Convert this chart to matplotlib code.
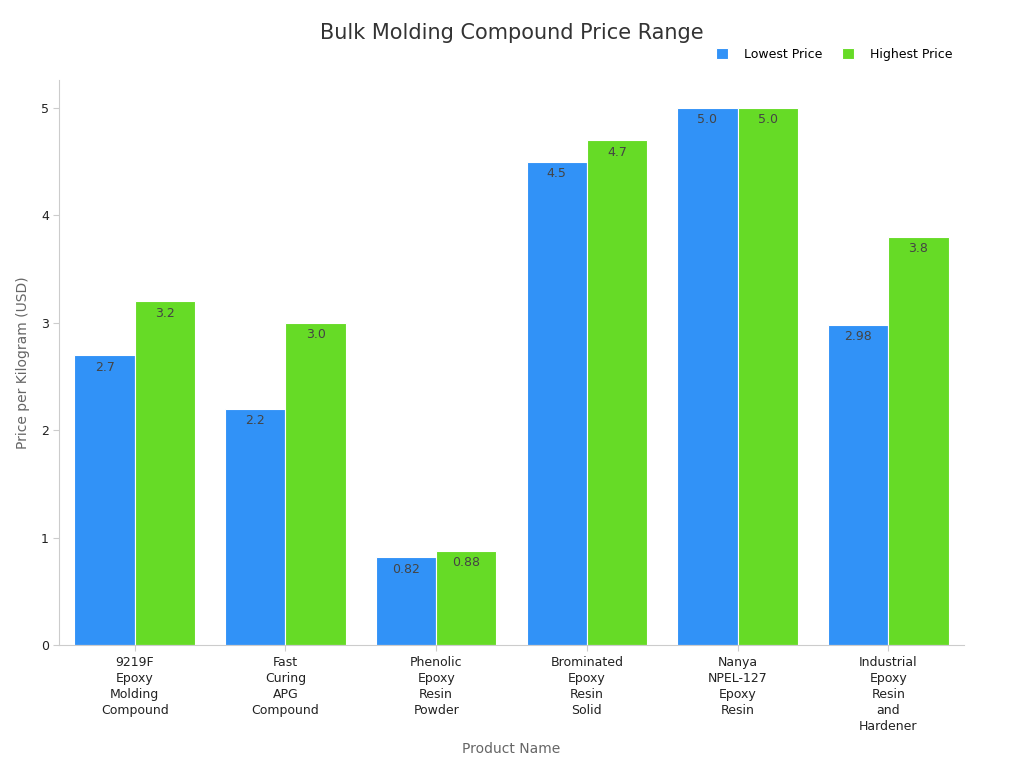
import numpy as np
import matplotlib.pyplot as plt

plt.rcParams['font.family'] = ['DejaVu Sans']

products = ["9219F\nEpoxy\nMolding\nCompound", "Fast\nCuring\nAPG\nCompound",
            "Phenolic\nEpoxy\nResin\nPowder", "Brominated\nEpoxy\nResin\nSolid",
            "Nanya\nNPEL-127\nEpoxy\nResin", "Industrial\nEpoxy\nResin\nand\nHardener"]
lowest = [2.7, 2.2, 0.82, 4.5, 5.0, 2.98]
highest = [3.2, 3.0, 0.88, 4.7, 5.0, 3.8]
low_labels = ["2.7", "2.2", "0.82", "4.5", "5.0", "2.98"]
high_labels = ["3.2", "3.0", "0.88", "4.7", "5.0", "3.8"]

blue = "#3192f7"
green = "#66db26"

fig = plt.figure(figsize=(10.24, 7.68), dpi=100)
ax = fig.add_axes([0.058, 0.16, 0.883, 0.736])

x = np.arange(len(products))
w = 0.4
b1 = ax.bar(x - w/2, lowest, w, color=blue, edgecolor="white", linewidth=0.8, label="Lowest Price")
b2 = ax.bar(x + w/2, highest, w, color=green, edgecolor="white", linewidth=0.8, label="Highest Price")

for bars, labs in ((b1, low_labels), (b2, high_labels)):
    for r, t in zip(bars, labs):
        ax.annotate(t, (r.get_x() + r.get_width()/2, r.get_height()), xytext=(0, -4),
                    textcoords="offset points", ha="center", va="top", fontsize=9, color="#444444")

ax.set_xlim(-0.5, 5.5)
ax.set_ylim(0, 5.26)
ax.set_xticks(x)
ax.set_xticklabels(products, fontsize=9, color="#222222", linespacing=1.3)
ax.set_yticks([0, 1, 2, 3, 4, 5])
ax.tick_params(axis="y", labelsize=9, colors="#222222", length=4, color="#cccccc")
ax.tick_params(axis="x", length=4, color="#cccccc")
for s in ("top", "right"):
    ax.spines[s].set_visible(False)
for s in ("left", "bottom"):
    ax.spines[s].set_color("#cccccc")

ax.set_xlabel("Product Name", fontsize=10, color="#666666", labelpad=7)
ax.set_ylabel("Price per Kilogram (USD)", fontsize=10, color="#666666", labelpad=8)
fig.suptitle("Bulk Molding Compound Price Range", fontsize=15, color="#333333", y=0.97)
ax.legend(loc="lower right", bbox_to_anchor=(1.0, 1.014), ncol=2, frameon=False, fontsize=9,
          handlelength=0.9, handleheight=0.9, columnspacing=1.6, handletextpad=1.3)

fig.savefig("out.png", dpi=100)
